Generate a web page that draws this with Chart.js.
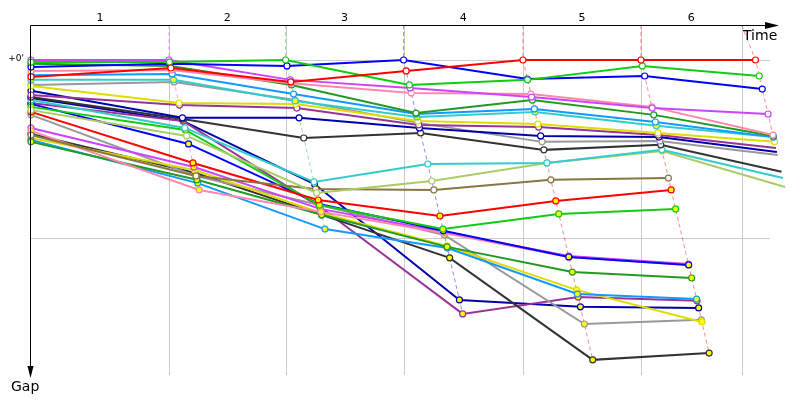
<!DOCTYPE html>
<html><head><meta charset="utf-8">
<script src="https://cdn.jsdelivr.net/npm/chart.js@4/dist/chart.umd.min.js"></script>
<style>html,body{margin:0;padding:0;background:#fff}#c{display:block}</style>
</head><body>
<canvas id="c" width="800" height="400"></canvas>
<script>
// Checkpoint (stage) labels along the time axis
const checkpointLabels = ['1', '2', '3', '4', '5', '6'];
// Leader's elapsed time (s) at start and each checkpoint
const leaderTimes = [0, 200, 369, 540, 713, 884, 1050];
// Vertical grid marks (s)
const gridTimes = [200, 369, 540, 713, 884, 1030];
// Gap ticks (s) and labels
const gapTicks = [0, 60];
const gapTickLabels = ["+0'", ""];

// Gap to leader (s) at start + checkpoints 1..6
const red        = [5.7, 2.7, 7.4, 3.7, 0, 0, 0];
const green      = [0.7, 0.7, 0, 8.4, 6.7, 2.0, 5.4];
const blue       = [2.4, 1.3, 2.0, 0, 6.4, 5.4, 9.8];
const violet     = [0, 0, 6.7, 9.4, 12.5, 16.2, 18.2];
const pink       = [3.7, 3.4, 7.8, 11.1, 11.5, 15.8, 25.3];
const darkGreen  = [1.3, 2.0, 8.4, 17.9, 13.5, 18.5, 25.6];
const lightBlue  = [5.1, 4.7, 11.5, 18.2, 16.5, 20.9, 26.0];
const cyan       = [6.7, 6.7, 13.8, 19.2, 17.5, 22.2, 26.0];
const yellow     = [8.8, 14.5, 14.8, 20.6, 21.6, 24.6, 27.6];
const purple     = [11.8, 15.2, 16.2, 21.9, 22.6, 25.3, 29.7];
const navy       = [10.4, 19.5, 19.5, 22.9, 25.6, 26.0, 31.0];
const gray       = [8.4, 7.4, 13.5, 21.2, 27.6, 27.3, 32.0];
const black      = [12.5, 19.9, 26.3, 24.6, 30.3, 28.6, 37.7];
const cyan2      = [13.5, 22.9, 41.1, 35.1, 34.7, 30.3, 39.8];
const lightGreen = [16.9, 25.6, 44.8, 40.8, 34.7, 30.7, 42.8];
const olive      = [25.3, 39.1, 43.5, 43.8, 40.4, 39.8];
const red2       = [17.5, 34.7, 47.2, 52.6, 47.5, 43.8];
const green2     = [15.8, 23.6, 48.9, 57.0, 51.9, 50.2];
const blue2      = [14.8, 28.3, 48.5, 57.6, 66.4, 69.1];
const pink2      = [23.9, 43.8, 51.2, 58.3, 66.4, 69.1];
const violet2    = [22.9, 36.1, 50.2, 58.0, 66.1, 68.8];
const darkGreen2 = [27.6, 40.4, 52.2, 63.0, 71.5, 73.5];
const lightBlue2 = [27.0, 41.5, 57.0, 63.4, 78.9, 80.6];
const yellow2    = [26.3, 37.1, 51.6, 62.7, 77.5, 88.3];
const gray2      = [18.5, 39.1, 48.9, 59.0, 89.0, 87.6];
const black2     = [24.9, 38.1, 52.2, 66.7, 101.1, 98.8];
const purple2    = [14.5, 20.6, 49.5, 85.6, 79.9, 81.2];
const navy2      = [12.8, 20.6, 41.8, 80.9, 83.2, 83.6];

const seriesList = [red, green, blue, violet, pink, darkGreen, lightBlue, cyan, yellow, purple, navy, gray, black, cyan2, lightGreen,
  olive, red2, green2, blue2, pink2, violet2, darkGreen2, lightBlue2, yellow2, gray2, black2, purple2, navy2];
const seriesNames = ['red','green','blue','violet','pink','darkGreen','lightBlue','cyan','yellow','purple','navy','gray','black','cyan2','lightGreen',
  'olive','red2','green2','blue2','pink2','violet2','darkGreen2','lightBlue2','yellow2','gray2','black2','purple2','navy2'];
const seriesColors = ['#ff0000','#11cc11','#0000ff','#cc44ff','#ff88aa','#229922','#1199ff','#33cccc','#dddd00','#993399','#0000aa','#999999','#333333','#33cccc','#aacc66',
  '#887744','#ff0000','#11cc11','#0000ff','#ff88aa','#cc44ff','#229922','#1199ff','#dddd00','#999999','#333333','#993399','#0000aa'];
const markedSeries = ['cyan','red2','green2','blue2','pink2','violet2','darkGreen2','lightBlue2','yellow2','gray2','black2','purple2','navy2'];

const X_MAX = 1071, Y_MIN = -11.8, Y_MAX = 106.2;

function hexA(hex, a) {
  const n = parseInt(hex.slice(1), 16);
  return `rgba(${(n >> 16) & 255},${(n >> 8) & 255},${n & 255},${a})`;
}

const datasets = [];
seriesList.forEach((gaps, s) => {
  const fill = markedSeries.includes(seriesNames[s]) ? '#ffff00' : '#ffffff';
  datasets.push({
    label: seriesNames[s],
    data: gaps.map((g, j) => ({ x: j === 0 ? 0 : leaderTimes[j] + g, y: g })),
    borderColor: seriesColors[s],
    backgroundColor: fill,
    pointBackgroundColor: fill,
    pointBorderColor: seriesColors[s],
    pointRadius: 3,
    pointBorderWidth: 1.2,
    borderWidth: 2,
    tension: 0,
    clip: false,
    order: 1 + s
  });
});
// checkpoint lines (dashed), coloured after the checkpoint leader
for (let j = 1; j < leaderTimes.length; j++) {
  const pts = [];
  let leaderIdx = -1, best = Infinity;
  seriesList.forEach((gaps, s) => {
    if (gaps.length > j) {
      pts.push({ x: leaderTimes[j] + gaps[j], y: gaps[j] });
      if (gaps[j] < best) { best = gaps[j]; leaderIdx = s; }
    }
  });
  pts.sort((a, b) => a.y - b.y);
  pts.unshift({ x: gridTimes[j - 1], y: Y_MIN });
  datasets.push({
    label: 'cp' + j,
    data: pts,
    borderColor: hexA(seriesColors[leaderIdx], 0.45),
    borderWidth: 1,
    borderDash: [4, 3],
    pointRadius: 0,
    tension: 0,
    clip: false,
    order: 100 + j
  });
}

const FONT = '"DejaVu Sans", Verdana, sans-serif';
const decor = {
  id: 'decor',
  beforeDatasetsDraw(chart) {
    const { ctx, chartArea: a, scales: { x, y } } = chart;
    ctx.save();
    ctx.strokeStyle = '#cccccc';
    ctx.lineWidth = 1;
    gridTimes.forEach(t => {
      const px = Math.round(x.getPixelForValue(t)) + 0.5;
      ctx.beginPath(); ctx.moveTo(px, a.top); ctx.lineTo(px, a.bottom); ctx.stroke();
    });
    gapTicks.forEach(g => {
      const py = Math.round(y.getPixelForValue(g)) + 0.5;
      ctx.beginPath(); ctx.moveTo(a.left, py); ctx.lineTo(a.right, py); ctx.stroke();
    });
    ctx.restore();
  },
  afterDraw(chart) {
    const { ctx, chartArea: a, scales: { x, y } } = chart;
    ctx.save();
    ctx.strokeStyle = '#000'; ctx.fillStyle = '#000'; ctx.lineWidth = 1;
    const ax = Math.round(a.left) - 0.5, ay = Math.round(a.top) + 0.5;
    // time axis
    ctx.beginPath(); ctx.moveTo(ax, ay); ctx.lineTo(770, ay); ctx.stroke();
    ctx.beginPath(); ctx.moveTo(779, ay); ctx.lineTo(765, ay - 3.5); ctx.lineTo(765, ay + 3.5); ctx.closePath(); ctx.fill();
    // gap axis
    ctx.beginPath(); ctx.moveTo(ax, ay); ctx.lineTo(ax, 370); ctx.stroke();
    ctx.beginPath(); ctx.moveTo(ax, 378); ctx.lineTo(ax - 3, 366); ctx.lineTo(ax + 3, 366); ctx.closePath(); ctx.fill();
    // checkpoint labels
    ctx.font = '11px ' + FONT; ctx.textAlign = 'center'; ctx.textBaseline = 'middle';
    const bounds = [0, ...gridTimes];
    checkpointLabels.forEach((lab, i) => {
      const mid = (x.getPixelForValue(bounds[i]) + x.getPixelForValue(bounds[i + 1])) / 2;
      ctx.fillText(lab, mid, 18);
    });
    // gap tick labels
    ctx.font = '9px ' + FONT; ctx.textAlign = 'right';
    gapTicks.forEach((g, i) => { if (gapTickLabels[i]) ctx.fillText(gapTickLabels[i], 24, y.getPixelForValue(g) - 1); });
    // axis titles
    ctx.font = '14px ' + FONT; ctx.textAlign = 'left'; ctx.textBaseline = 'alphabetic';
    ctx.fillText('Time', 743, 40);
    ctx.fillText('Gap', 11, 391);
    ctx.restore();
  }
};

new Chart(document.getElementById('c'), {
  type: 'line',
  data: { datasets },
  options: {
    responsive: false,
    animation: false,
    events: [],
    layout: { padding: { left: 31, right: 30, top: 25, bottom: 25 } },
    scales: {
      x: { type: 'linear', min: 0, max: X_MAX, display: false },
      y: { type: 'linear', min: Y_MIN, max: Y_MAX, reverse: true, display: false }
    },
    plugins: { legend: { display: false }, tooltip: { enabled: false } }
  },
  plugins: [decor]
});
</script>
</body></html>
